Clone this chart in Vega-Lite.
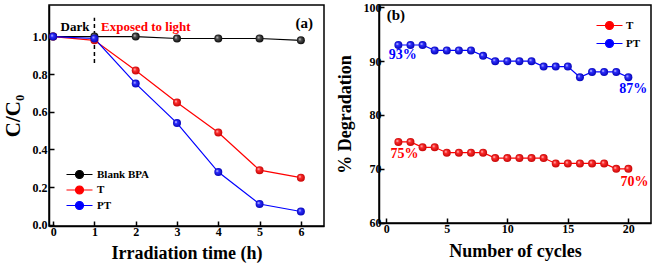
{
  "$schema": "https://vega.github.io/schema/vega-lite/v6.json",
  "background": "white",
  "padding": {"left": 1, "top": 0, "right": 2, "bottom": 1},
  "spacing": 55,
  "bounds": "flush",
  "resolve": {"scale": {"color": "independent"}, "legend": {"color": "independent"}},
  "config": {
    "view": {"stroke": "black", "strokeWidth": 1.5},
    "font": "Liberation Serif",
    "text": {"font": "Liberation Serif"},
    "axis": {
      "grid": false,
      "domainColor": "black",
      "domainWidth": 1.5,
      "tickColor": "black",
      "tickWidth": 1.5,
      "labelFont": "Liberation Serif",
      "labelFontWeight": "bold",
      "labelFontSize": 12,
      "labelColor": "black",
      "titleFont": "Liberation Serif",
      "titleFontWeight": "bold",
      "titleFontSize": 18,
      "titleColor": "black"
    },
    "legend": {
      "labelFont": "Liberation Serif",
      "labelFontWeight": "bold",
      "labelFontSize": 11,
      "labelColor": "black",
      "padding": 0,
      "offset": 0
    }
  },
  "datasets": {
    "kin": [
      {"t": 0, "cc": 1.0, "series": "Blank BPA"},
      {"t": 1, "cc": 1.0, "series": "Blank BPA"},
      {"t": 2, "cc": 1.0, "series": "Blank BPA"},
      {"t": 3, "cc": 0.99, "series": "Blank BPA"},
      {"t": 4, "cc": 0.99, "series": "Blank BPA"},
      {"t": 5, "cc": 0.99, "series": "Blank BPA"},
      {"t": 6, "cc": 0.98, "series": "Blank BPA"},
      {"t": 0, "cc": 1.0, "series": "T"},
      {"t": 1, "cc": 0.98, "series": "T"},
      {"t": 2, "cc": 0.82, "series": "T"},
      {"t": 3, "cc": 0.65, "series": "T"},
      {"t": 4, "cc": 0.49, "series": "T"},
      {"t": 5, "cc": 0.29, "series": "T"},
      {"t": 6, "cc": 0.25, "series": "T"},
      {"t": 0, "cc": 1.0, "series": "PT"},
      {"t": 1, "cc": 0.99, "series": "PT"},
      {"t": 2, "cc": 0.75, "series": "PT"},
      {"t": 3, "cc": 0.54, "series": "PT"},
      {"t": 4, "cc": 0.28, "series": "PT"},
      {"t": 5, "cc": 0.11, "series": "PT"},
      {"t": 6, "cc": 0.07, "series": "PT"}
    ],
    "cyc": [
      {"n": 1, "d": 75, "series": "T"}, {"n": 2, "d": 75, "series": "T"}, {"n": 3, "d": 74, "series": "T"}, {"n": 4, "d": 74, "series": "T"},
      {"n": 5, "d": 73, "series": "T"}, {"n": 6, "d": 73, "series": "T"}, {"n": 7, "d": 73, "series": "T"}, {"n": 8, "d": 73, "series": "T"},
      {"n": 9, "d": 72, "series": "T"}, {"n": 10, "d": 72, "series": "T"}, {"n": 11, "d": 72, "series": "T"}, {"n": 12, "d": 72, "series": "T"},
      {"n": 13, "d": 72, "series": "T"}, {"n": 14, "d": 71, "series": "T"}, {"n": 15, "d": 71, "series": "T"}, {"n": 16, "d": 71, "series": "T"},
      {"n": 17, "d": 71, "series": "T"}, {"n": 18, "d": 71, "series": "T"}, {"n": 19, "d": 70, "series": "T"}, {"n": 20, "d": 70, "series": "T"},
      {"n": 1, "d": 93, "series": "PT"}, {"n": 2, "d": 93, "series": "PT"}, {"n": 3, "d": 93, "series": "PT"}, {"n": 4, "d": 92, "series": "PT"},
      {"n": 5, "d": 92, "series": "PT"}, {"n": 6, "d": 92, "series": "PT"}, {"n": 7, "d": 92, "series": "PT"}, {"n": 8, "d": 91, "series": "PT"},
      {"n": 9, "d": 90, "series": "PT"}, {"n": 10, "d": 90, "series": "PT"}, {"n": 11, "d": 90, "series": "PT"}, {"n": 12, "d": 90, "series": "PT"},
      {"n": 13, "d": 89, "series": "PT"}, {"n": 14, "d": 89, "series": "PT"}, {"n": 15, "d": 89, "series": "PT"}, {"n": 16, "d": 87, "series": "PT"},
      {"n": 17, "d": 88, "series": "PT"}, {"n": 18, "d": 88, "series": "PT"}, {"n": 19, "d": 88, "series": "PT"}, {"n": 20, "d": 87, "series": "PT"}
    ],
    "notesA": [
      {"t": 0.53, "cc": 1.051, "label": "Dark", "color": "black", "size": 13},
      {"t": 6.08, "cc": 1.072, "label": "(a)", "color": "black", "size": 15}
    ],
    "notesA2": [
      {"t": 1.16, "cc": 1.051, "label": "Exposed to light", "color": "red", "size": 13}
    ],
    "notesB": [
      {"n": 0.8, "d": 98.6, "label": "(b)", "color": "black", "size": 15},
      {"n": 1.37, "d": 91.1, "label": "93%", "color": "blue", "size": 14},
      {"n": 20.4, "d": 84.8, "label": "87%", "color": "blue", "size": 14},
      {"n": 1.5, "d": 72.8, "label": "75%", "color": "red", "size": 14},
      {"n": 20.5, "d": 67.6, "label": "70%", "color": "red", "size": 14}
    ],
    "dash": [{"t": 1, "y1": 0.86, "y2": 1.1}]
  },
  "hconcat": [
    {
      "width": 275,
      "height": 221,
      "layer": [
        {
          "data": {"name": "dash"},
          "mark": {"type": "rule", "color": "black", "strokeWidth": 1.5, "strokeDash": [4, 3]},
          "encoding": {
            "x": {"field": "t", "type": "quantitative"},
            "y": {"field": "y1", "type": "quantitative"},
            "y2": {"field": "y2"}
          }
        },
        {
          "data": {"name": "kin"},
          "mark": {"type": "line", "strokeWidth": 1.2},
          "encoding": {
            "x": {
              "field": "t", "type": "quantitative",
              "scale": {"domain": [-0.1, 6.56], "nice": false, "zero": false},
              "axis": {
                "title": "Irradiation time (h)",
                "titleFont": "Liberation Serif",
                "labelFont": "Liberation Serif",
                "values": [0, 0.5, 1, 1.5, 2, 2.5, 3, 3.5, 4, 4.5, 5, 5.5, 6],
                "labelExpr": "datum.value % 1 === 0 ? format(datum.value, 'd') : ''",
                "tickSize": {"condition": {"test": "datum.value % 1 !== 0", "value": -3}, "value": -5},
                "labelPadding": 5,
                "titlePadding": 7
              }
            },
            "y": {
              "field": "cc", "type": "quantitative",
              "scale": {"domain": [-0.007, 1.168], "nice": false, "zero": false},
              "axis": {
                "title": "C/C₀",
                "titleFont": "Liberation Serif",
                "labelFont": "Liberation Serif",
                "titleFontSize": 21,
                "values": [0, 0.1, 0.2, 0.3, 0.4, 0.5, 0.6, 0.7, 0.8, 0.9, 1.0, 1.1],
                "labelExpr": "abs(datum.value * 5 - round(datum.value * 5)) < 0.001 ? format(datum.value, '.1f') : ''",
                "tickSize": {"condition": {"test": "abs(datum.value * 5 - round(datum.value * 5)) > 0.001", "value": -3}, "value": -5},
                "labelPadding": 7,
                "titlePadding": 9
              }
            },
            "color": {
              "field": "series", "type": "nominal",
              "scale": {"domain": ["Blank BPA", "T", "PT"], "range": ["#000000", "#ff0000", "#0000ff"]},
              "legend": {
                "title": null,
                "orient": "none",
                "legendX": 25,
                "legendY": 164,
                "labelFont": "Liberation Serif",
                "symbolType": "M-3.25,0H3.25M-1,0A1,1,0,1,1,1,0A1,1,0,1,1,-1,0Z",
                "symbolSize": 64,
                "symbolStrokeWidth": 1.2,
                "labelOffset": 12,
                "rowPadding": 2.5,
                "encode": {
                  "symbols": {
                    "update": {
                      "fill": {"signal": "datum.value === 'T' ? '#ff0000' : datum.value === 'PT' ? '#0000ff' : '#000000'"},
                      "stroke": {"signal": "datum.value === 'T' ? '#ff0000' : datum.value === 'PT' ? '#0000ff' : '#000000'"},
                      "opacity": {"value": 1}
                    }
                  }
                }
              }
            }
          }
        },
        {
          "data": {"name": "kin"},
          "transform": [{"filter": "datum.series === 'Blank BPA'"}],
          "mark": {"type": "point", "filled": true, "size": 64, "opacity": 1, "strokeWidth": 0,
            "fill": {"gradient": "radial", "x1": 0.35, "y1": 0.35, "r1": 0, "x2": 0.5, "y2": 0.5, "r2": 0.55,
              "stops": [{"offset": 0, "color": "#ffffff"}, {"offset": 0.3, "color": "#555555"}, {"offset": 1, "color": "#000000"}]}},
          "encoding": {"x": {"field": "t", "type": "quantitative"}, "y": {"field": "cc", "type": "quantitative"}}
        },
        {
          "data": {"name": "kin"},
          "transform": [{"filter": "datum.series === 'T'"}],
          "mark": {"type": "point", "filled": true, "size": 64, "opacity": 1, "strokeWidth": 0,
            "fill": {"gradient": "radial", "x1": 0.35, "y1": 0.35, "r1": 0, "x2": 0.5, "y2": 0.5, "r2": 0.55,
              "stops": [{"offset": 0, "color": "#ffffff"}, {"offset": 0.3, "color": "#ff3030"}, {"offset": 1, "color": "#c00000"}]}},
          "encoding": {"x": {"field": "t", "type": "quantitative"}, "y": {"field": "cc", "type": "quantitative"}}
        },
        {
          "data": {"name": "kin"},
          "transform": [{"filter": "datum.series === 'PT'"}],
          "mark": {"type": "point", "filled": true, "size": 64, "opacity": 1, "strokeWidth": 0,
            "fill": {"gradient": "radial", "x1": 0.35, "y1": 0.35, "r1": 0, "x2": 0.5, "y2": 0.5, "r2": 0.55,
              "stops": [{"offset": 0, "color": "#ffffff"}, {"offset": 0.3, "color": "#3030ff"}, {"offset": 1, "color": "#0000b0"}]}},
          "encoding": {"x": {"field": "t", "type": "quantitative"}, "y": {"field": "cc", "type": "quantitative"}}
        },
        {
          "data": {"name": "notesA"},
          "mark": {"type": "text", "font": "Liberation Serif", "fontWeight": "bold", "baseline": "middle", "align": "center"},
          "encoding": {
            "x": {"field": "t", "type": "quantitative"},
            "y": {"field": "cc", "type": "quantitative"},
            "text": {"field": "label"},
            "color": {"field": "color", "type": "nominal", "scale": null},
            "size": {"field": "size", "type": "quantitative", "scale": null}
          }
        },
        {
          "data": {"name": "notesA2"},
          "mark": {"type": "text", "font": "Liberation Serif", "fontWeight": "bold", "baseline": "middle", "align": "left"},
          "encoding": {
            "x": {"field": "t", "type": "quantitative"},
            "y": {"field": "cc", "type": "quantitative"},
            "text": {"field": "label"},
            "color": {"field": "color", "type": "nominal", "scale": null},
            "size": {"field": "size", "type": "quantitative", "scale": null}
          }
        }
      ]
    },
    {
      "width": 272,
      "height": 218,
      "layer": [
        {
          "data": {"name": "cyc"},
          "mark": {"type": "line", "strokeWidth": 1.2},
          "encoding": {
            "x": {
              "field": "n", "type": "quantitative",
              "scale": {"domain": [-0.6, 21.87], "nice": false, "zero": false},
              "axis": {
                "title": "Number of cycles",
                "titleFont": "Liberation Serif",
                "labelFont": "Liberation Serif",
                "values": [0, 2.5, 5, 7.5, 10, 12.5, 15, 17.5, 20],
                "labelExpr": "datum.value % 5 === 0 ? format(datum.value, 'd') : ''",
                "tickSize": {"condition": {"test": "datum.value % 5 !== 0", "value": -3}, "value": -5},
                "labelPadding": 5,
                "titlePadding": 8
              }
            },
            "y": {
              "field": "d", "type": "quantitative",
              "scale": {"domain": [59.94, 100.43], "nice": false, "zero": false},
              "axis": {
                "title": "% Degradation",
                "titleFont": "Liberation Serif",
                "labelFont": "Liberation Serif",
                "values": [60, 65, 70, 75, 80, 85, 90, 95, 100],
                "labelExpr": "datum.value % 10 === 0 ? format(datum.value, 'd') : ''",
                "tickSize": {"condition": {"test": "datum.value % 10 !== 0", "value": -3}, "value": -5},
                "labelPadding": 3,
                "titlePadding": 9
              }
            },
            "color": {
              "field": "series", "type": "nominal",
              "scale": {"domain": ["T", "PT"], "range": ["#ff0000", "#0000ff"]},
              "legend": {
                "title": null,
                "orient": "none",
                "legendX": 225,
                "legendY": 15,
                "labelFont": "Liberation Serif",
                "symbolType": "M-3.25,0H3.25M-1,0A1,1,0,1,1,1,0A1,1,0,1,1,-1,0Z",
                "symbolSize": 64,
                "symbolStrokeWidth": 1.2,
                "labelOffset": 11,
                "rowPadding": 5,
                "encode": {
                  "symbols": {
                    "update": {
                      "fill": {"signal": "datum.value === 'T' ? '#ff0000' : '#0000ff'"},
                      "stroke": {"signal": "datum.value === 'T' ? '#ff0000' : '#0000ff'"},
                      "opacity": {"value": 1}
                    }
                  }
                }
              }
            }
          }
        },
        {
          "data": {"name": "cyc"},
          "transform": [{"filter": "datum.series === 'T'"}],
          "mark": {"type": "point", "filled": true, "size": 64, "opacity": 1, "strokeWidth": 0,
            "fill": {"gradient": "radial", "x1": 0.35, "y1": 0.35, "r1": 0, "x2": 0.5, "y2": 0.5, "r2": 0.55,
              "stops": [{"offset": 0, "color": "#ffffff"}, {"offset": 0.3, "color": "#ff3030"}, {"offset": 1, "color": "#c00000"}]}},
          "encoding": {"x": {"field": "n", "type": "quantitative"}, "y": {"field": "d", "type": "quantitative"}}
        },
        {
          "data": {"name": "cyc"},
          "transform": [{"filter": "datum.series === 'PT'"}],
          "mark": {"type": "point", "filled": true, "size": 64, "opacity": 1, "strokeWidth": 0,
            "fill": {"gradient": "radial", "x1": 0.35, "y1": 0.35, "r1": 0, "x2": 0.5, "y2": 0.5, "r2": 0.55,
              "stops": [{"offset": 0, "color": "#ffffff"}, {"offset": 0.3, "color": "#3030ff"}, {"offset": 1, "color": "#0000b0"}]}},
          "encoding": {"x": {"field": "n", "type": "quantitative"}, "y": {"field": "d", "type": "quantitative"}}
        },
        {
          "data": {"name": "notesB"},
          "mark": {"type": "text", "font": "Liberation Serif", "fontWeight": "bold", "baseline": "middle", "align": "center"},
          "encoding": {
            "x": {"field": "n", "type": "quantitative"},
            "y": {"field": "d", "type": "quantitative"},
            "text": {"field": "label"},
            "color": {"field": "color", "type": "nominal", "scale": null},
            "size": {"field": "size", "type": "quantitative", "scale": null}
          }
        }
      ]
    }
  ]
}
